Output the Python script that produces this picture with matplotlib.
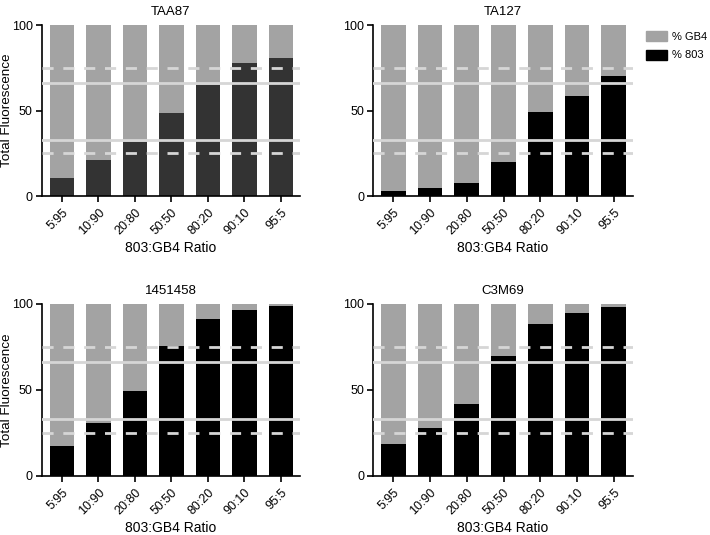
import matplotlib
matplotlib.use("Agg")
import numpy as np
import matplotlib.pyplot as plt
from matplotlib.patches import Patch

plt.rcParams['font.family'] = ['Liberation Sans', 'DejaVu Sans']

ratios = ['5:95', '10:90', '20:80', '50:50', '80:20', '90:10', '95:5']
titles = ['TAA87', 'TA127', '1451458', 'C3M69']

# % 803 per ratio (GB4 is the remainder to 100)
taa87 = [10.7, 21, 31.8, 48.7, 64.9, 77.6, 80.5]
ta127 = [2.9, 4.5, 7.6, 19.7, 48.9, 58.5, 70]
p1451458 = [17.7, 30.7, 49.6, 75.3, 91.2, 96.7, 98.6]
c3m69 = [18.5, 28, 41.8, 69.6, 88.3, 94.5, 98.2]
series = [taa87, ta127, p1451458, c3m69]

gray = '#a3a3a3'
line_col = '#d6d6d6'

fig = plt.figure(figsize=(7.1, 5.35), dpi=100)

# axes boxes in figure fractions (left, bottom, width, height)
boxes = [
    (0.059, 0.6336, 0.3634, 0.3196),
    (0.5254, 0.6336, 0.366, 0.3196),
    (0.059, 0.1103, 0.3634, 0.3215),
    (0.5254, 0.1103, 0.366, 0.3215),
]

x = np.arange(len(ratios))
for i in range(4):
    ax = fig.add_axes(boxes[i])
    v803 = np.array(series[i])
    dark = '#333333' if i == 0 else 'black'
    ax.bar(x, 100, width=0.67, color=gray, zorder=1)
    ax.bar(x, v803, width=0.67, color=dark, zorder=2)

    # reference lines
    for y in (25, 75):
        ax.axhline(y, color=line_col, lw=2, ls=(0, (4, 3.5)), zorder=3)
    for y in (33, 66):
        ax.axhline(y, color=line_col, lw=2, zorder=3)

    ax.set_xlim(-0.55, 6.52)
    ax.set_ylim(0, 100)
    ax.set_yticks([0, 50, 100])
    ax.set_xticks(x)
    ax.set_xticklabels(ratios, rotation=45, ha='right', rotation_mode='anchor', fontsize=9)
    ax.tick_params(axis='y', labelsize=9, length=4, width=1.2, pad=2.5)
    ax.tick_params(axis='x', length=4, width=1.2)
    ax.spines['top'].set_visible(False)
    ax.spines['right'].set_visible(False)
    ax.spines['left'].set_linewidth(1.2)
    ax.spines['bottom'].set_linewidth(1.2)
    ax.set_title(titles[i], fontsize=9.5, pad=7)
    ax.set_xlabel('803:GB4 Ratio', fontsize=10, labelpad=3)
    if i % 2 == 0:
        ax.set_ylabel('Total Fluorescence', fontsize=9.7)
        ax.yaxis.set_label_coords(-0.112, 0.5)

handles = [Patch(color=gray, label='% GB4'), Patch(color='black', label='% 803')]
fig.legend(handles=handles, loc='upper left', bbox_to_anchor=(646 / 710, 1 - 31 / 535),
           frameon=False, fontsize=8, handlelength=1.9, handleheight=1.0,
           handletextpad=0.45, labelspacing=0.7, borderaxespad=0, borderpad=0)

fig.savefig('out.png', dpi=100)
